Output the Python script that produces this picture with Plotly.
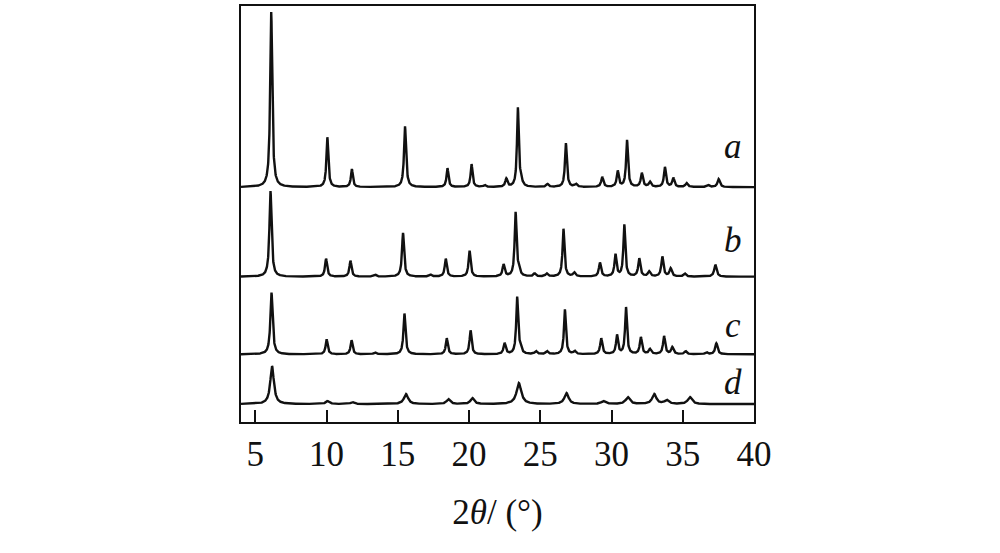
import numpy as np
import plotly.graph_objects as go

# 2theta axis
two_theta = np.linspace(4, 40, 3601)

# Peak lists (position in degrees, height and FWHM in plot units)
a_pos = [6.12, 10.06, 11.78, 15.51, 18.49, 20.18, 21.1, 22.62, 23.43, 23.65, 25.5, 26.8, 27.5, 29.35, 30.44, 31.09, 32.13, 32.7, 33.75, 34.34, 35.27, 36.78, 37.52]
a_h   = [176, 50, 18, 61, 19, 23, 2, 8, 79, 6, 3, 44, 3, 10, 16, 47, 14, 5, 20, 9, 4, 2, 8]
a_w   = [0.17, 0.16, 0.16, 0.17, 0.16, 0.16, 0.2, 0.18, 0.15, 0.2, 0.2, 0.16, 0.2, 0.18, 0.17, 0.16, 0.18, 0.2, 0.17, 0.18, 0.2, 0.2, 0.2]
a_offset = 236

b_pos = [6.07, 9.97, 11.68, 13.4, 15.37, 17.3, 18.37, 20.04, 22.43, 23.27, 23.5, 24.6, 25.45, 26.63, 27.38, 29.19, 30.28, 30.9, 31.95, 32.64, 33.57, 34.15, 35.15, 37.29]
b_h   = [86, 18, 16, 2, 44, 2, 18, 26, 12, 64, 6, 3, 3, 48, 4, 14, 22, 52, 18, 5, 20, 8, 3, 12]
b_w   = [0.18, 0.17, 0.17, 0.2, 0.17, 0.2, 0.17, 0.17, 0.18, 0.16, 0.2, 0.2, 0.2, 0.16, 0.2, 0.18, 0.17, 0.16, 0.18, 0.2, 0.18, 0.2, 0.2, 0.2]
b_offset = 146

c_pos = [6.14, 10.01, 11.76, 13.4, 15.47, 18.44, 20.11, 22.5, 23.38, 23.6, 24.7, 25.47, 26.73, 27.42, 29.28, 30.39, 31.02, 32.06, 32.7, 33.69, 34.27, 35.2, 36.66, 37.36]
c_h   = [62, 15, 14, 2, 41, 16, 24, 11, 57, 5, 3, 3, 45, 3, 16, 19, 47, 17, 5, 18, 7, 3, 2, 11]
c_w   = [0.19, 0.17, 0.17, 0.2, 0.17, 0.17, 0.17, 0.18, 0.16, 0.2, 0.2, 0.2, 0.16, 0.2, 0.18, 0.17, 0.16, 0.18, 0.2, 0.18, 0.2, 0.2, 0.2, 0.2]
c_offset = 68

d_pos = [6.18, 10.08, 11.82, 15.58, 18.55, 20.23, 23.5, 26.84, 29.42, 31.14, 33.0, 33.87, 35.5]
d_h   = [38, 3, 2, 10, 5, 6, 21, 11, 3, 7, 10, 4, 7]
d_w   = [0.3, 0.3, 0.3, 0.35, 0.3, 0.3, 0.4, 0.35, 0.35, 0.35, 0.35, 0.35, 0.35]
d_offset = 18

labels = ["a", "b", "c", "d"]
label_x = [38.55, 38.55, 38.55, 38.55]
label_y = [277, 182, 97, 40]

x_ticks = [5, 10, 15, 20, 25, 30, 35, 40]


def profile(pos, h, w, offset):
    y = np.full_like(two_theta, float(offset))
    for p, hh, ww in zip(pos, h, w):
        y += hh / (1.0 + ((two_theta - p) / (ww / 2.0)) ** 2)
    return y


fig = go.Figure()
for pos, h, w, off in [(a_pos, a_h, a_w, a_offset), (b_pos, b_h, b_w, b_offset),
                       (c_pos, c_h, c_w, c_offset), (d_pos, d_h, d_w, d_offset)]:
    fig.add_trace(go.Scatter(x=two_theta, y=profile(pos, h, w, off), mode="lines",
                             line=dict(color="#111111", width=2.4), showlegend=False,
                             hoverinfo="skip"))

for t, lx, ly in zip(labels, label_x, label_y):
    fig.add_annotation(x=lx, y=ly, xref="x", yref="y", text=f"<i>{t}</i>",
                       showarrow=False, font=dict(family="Liberation Serif", size=35, color="#111111"))

fig.update_layout(
    width=1000, height=553,
    margin=dict(l=241, r=246, t=4, b=131),
    paper_bgcolor="white", plot_bgcolor="white",
    font=dict(family="Liberation Serif", size=35, color="#111111"),
    xaxis=dict(range=[4, 40], tickvals=x_ticks, ticks="inside", ticklen=12, tickwidth=2,
               tickcolor="#111111", showline=True, linecolor="#111111", linewidth=2,
               mirror=True, showgrid=False, zeroline=False,
               tickfont=dict(family="Liberation Serif", size=35),
               title=dict(text="2<i>θ</i>/ (°)", font=dict(family="Liberation Serif", size=35), standoff=26)),
    yaxis=dict(range=[0, 418], showticklabels=False, ticks="", showline=True, linecolor="#111111",
               linewidth=2, mirror=True, showgrid=False, zeroline=False),
)

fig.write_html("out.html", config={"displayModeBar": False},
               post_script="document.body.style.margin='0';")
